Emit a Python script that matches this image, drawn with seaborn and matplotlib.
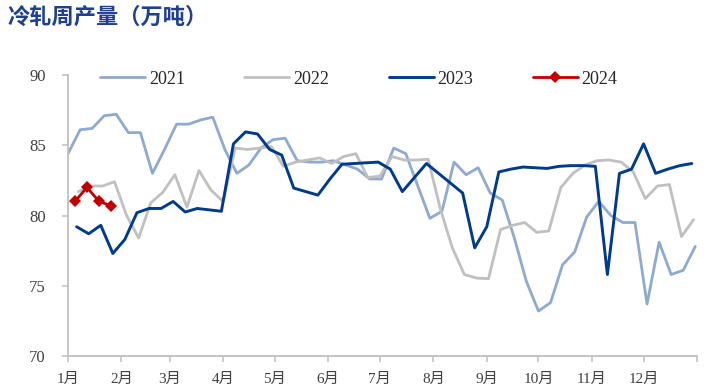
import pandas as pd
import numpy as np
import matplotlib.pyplot as plt
import seaborn as sns

# weekly cold-rolled output (10k t), one value per Friday
years = ['2021', '2022', '2023', '2024']
first_friday = ['2021-01-01', '2022-01-07', '2023-01-06', '2024-01-05']

prod_2021 = [84.4, 86.1, 86.2, 87.1, 87.2, 85.9, 85.9, 83.0, 84.7, 86.5,
             86.5, 86.8, 87.0, 84.7, 83.0, 83.6, 84.8, 85.4, 85.5, 83.9,
             83.8, 83.8, 83.9, 83.6, 83.3, 82.6, 82.6, 84.8, 84.4, 82.1,
             79.8, 80.3, 83.8, 82.9, 83.4, 81.6, 81.1, 78.4, 75.3, 73.2,
             73.8, 76.5, 77.4, 79.9, 81.0, 80.0, 79.5, 79.5, 73.7, 78.1,
             75.8, 76.1, 77.8]
prod_2022 = [81.7, 82.1, 82.1, 82.4, 80.0, 78.4, 80.9, 81.65, 82.9, 80.6,
             83.2, 81.8, 81.0, 84.8, 84.7, 84.8, 84.9, 83.5, 83.8, 83.95,
             84.1, 83.7, 84.2, 84.4, 82.7, 82.8, 84.2, 83.95, 83.95, 84.0,
             80.5, 77.7, 75.8, 75.55, 75.5, 79.0, 79.3, 79.5, 78.8, 78.9,
             82.0, 83.0, 83.6, 83.9, 83.95, 83.8, 83.1, 81.2, 82.1, 82.2,
             78.5, 79.7]
prod_2023 = [79.2, 78.7, 79.3, 77.3, 78.3, 80.2, 80.5, 80.5, 81.0, 80.25,
             80.5, 80.4, 80.3, 85.1, 85.95, 85.8, 84.7, 84.3, 81.95, 81.7,
             81.45, 82.6, 83.65, 83.7, 83.75, 83.8, 83.3, 81.7, 82.7, 83.7,
             83.0, 82.3, 81.6, 77.7, 79.2, 83.1, 83.3, 83.45, 83.4, 83.35,
             83.5, 83.55, 83.55, 83.5, 75.8, 83.0, 83.3, 85.1, 83.0, 83.3,
             83.55, 83.7]
prod_2024 = [81.0, 82.0, 81.0, 80.7]

month_labels = [f'{m}月' for m in range(1, 13)]

colors = {'2021': '#8eaad0', '2022': '#c0c0c0', '2023': '#003a8c', '2024': '#c00000'}

frames = []
for yr, start, vals in zip(years, first_friday, [prod_2021, prod_2022, prod_2023, prod_2024]):
    dates = pd.date_range(start, periods=len(vals), freq='7D')
    frames.append(pd.DataFrame({'day': dates.dayofyear - 1, 'value': vals, 'year': yr}))
df = pd.concat(frames, ignore_index=True)

sns.set_theme(style='white')
plt.rcParams['font.family'] = ['Liberation Serif', 'Noto Sans CJK SC']

fig = plt.figure(figsize=(7.1, 3.92), dpi=100)
ax = fig.add_axes([0.0958, 0.0918, 0.8859, 0.7169])

for yr in years:
    sub = df[df['year'] == yr]
    if yr == '2024':
        sns.lineplot(data=sub, x='day', y='value', ax=ax, color=colors[yr], linewidth=2.0,
                     marker='D', markersize=6, markeredgewidth=0, label=yr)
    else:
        sns.lineplot(data=sub, x='day', y='value', ax=ax, color=colors[yr],
                     linewidth=2.0 if yr != '2023' else 2.1, label=yr)

month_start = list(pd.date_range('2023-01-01', periods=13, freq='MS').dayofyear - 1)
month_start[-1] = 365
ax.set_xticks(month_start)
ax.set_xticklabels(month_labels + [''])
ax.set_xlim(0, 365)
ax.set_ylim(70, 90)
ax.set_yticks([70, 75, 80, 85, 90])
ax.set_xlabel('')
ax.set_ylabel('')

for s in ['top', 'right']:
    ax.spines[s].set_visible(False)
for s in ['left', 'bottom']:
    ax.spines[s].set_color('#bfbfbf')
    ax.spines[s].set_linewidth(1.3)

ax.tick_params(axis='y', which='both', left=True, length=4, width=1.1, color='#bfbfbf',
               pad=12, labelsize=12, labelcolor='#404040')
ax.tick_params(axis='x', which='both', bottom=True, length=4, width=1.1, color='#bfbfbf',
               pad=8, labelsize=11, labelcolor='#404040')

ax.legend(loc='center left', bbox_to_anchor=(100 / 710, 1 - 79 / 392), bbox_transform=fig.transFigure,
          ncol=4, frameon=False, fontsize=13, handlelength=2.5, handletextpad=0.2,
          columnspacing=3.3, borderpad=0, borderaxespad=0)

fig.text(0.011, 1 - 17 / 392, '冷轧周产量（万吨）', ha='left', va='center', fontsize=16,
         fontweight='bold', color='#1f3f8f', family=['Noto Sans CJK SC'])

plt.savefig('out.png', dpi=100)
